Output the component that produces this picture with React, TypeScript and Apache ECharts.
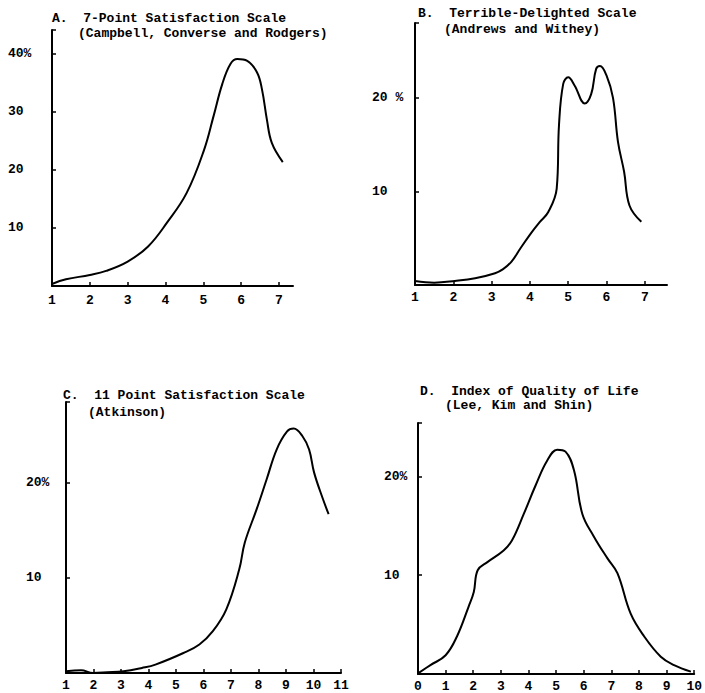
import React, { useEffect, useRef } from "react";
import * as echarts from "echarts";

// Panel A: 7-Point Satisfaction Scale
const aX = [1, 1.37, 2, 2.43, 3, 3.54, 4.03, 4.56, 5.02, 5.27, 5.5, 5.72, 5.9, 6.16, 6.42, 6.55, 6.68, 6.81, 7.1];
const aY = [0.35, 1.15, 1.9, 2.6, 4.2, 6.8, 10.8, 16, 23.4, 29.2, 34.7, 38.2, 39, 38.7, 36.7, 33.8, 28.6, 24.6, 21.3];
// Panel B: Terrible-Delighted Scale
const bX = [1, 1.5, 2.04, 2.57, 3.09, 3.3, 3.52, 3.75, 4.04, 4.25, 4.48, 4.7, 4.76, 4.87, 5.0, 5.17, 5.43, 5.6, 5.73, 5.83, 6.0, 6.17, 6.3, 6.46, 6.6, 6.91];
const bY = [0.43, 0.25, 0.43, 0.72, 1.26, 1.7, 2.5, 3.9, 5.6, 6.7, 7.8, 10.3, 17.1, 21.5, 22.2, 21.3, 19.4, 20.4, 23.1, 23.4, 22.4, 20, 15.3, 12.1, 8.5, 6.75];
// Panel C: 11 Point Satisfaction Scale
const cX = [1, 1.55, 1.98, 2.5, 3.09, 3.76, 4.25, 5.27, 5.85, 6.34, 6.83, 7.3, 7.5, 7.93, 8.3, 8.66, 9.04, 9.28, 9.6, 9.84, 10.02, 10.33, 10.55];
const cY = [0.18, 0.28, 0, 0.07, 0.18, 0.53, 0.88, 2.1, 3, 4.4, 6.7, 10.9, 13.7, 17.2, 20.4, 23.5, 25.4, 25.7, 24.9, 23.5, 21.1, 18.4, 16.7];
// Panel D: Index of Quality of Life
const dX = [0, 0.45, 1.0, 1.41, 1.83, 2.02, 2.16, 2.5, 3.1, 3.4, 3.83, 4.26, 4.68, 5.04, 5.34, 5.65, 5.95, 6.37, 6.86, 7.22, 7.7, 8.19, 8.79, 9.27, 9.88];
const dY = [0.07, 0.9, 1.9, 3.8, 6.8, 8.3, 10.5, 11.3, 12.5, 13.5, 16.2, 19.1, 21.6, 22.7, 22.5, 20.6, 16.2, 13.9, 11.7, 10.2, 6.1, 3.8, 1.75, 0.9, 0.24];

const titleLines = [
  ["A.  7-Point Satisfaction Scale", "(Campbell, Converse and Rodgers)"],
  ["B.  Terrible-Delighted Scale", "(Andrews and Withey)"],
  ["C.  11 Point Satisfaction Scale", "(Atkinson)"],
  ["D.  Index of Quality of Life", "(Lee, Kim and Shin)"],
];

const FONT = "Liberation Mono";

export default function App() {
  const ref = useRef<HTMLDivElement>(null);
  useEffect(() => {
    if (!ref.current) return;
    const chart = echarts.init(ref.current, null, { renderer: "svg" });
    const grids = [
      { left: 52, top: 30, width: 241, height: 256 },
      { left: 415, top: 23, width: 252, height: 262 },
      { left: 66, top: 402, width: 275, height: 271 },
      { left: 418, top: 423, width: 277, height: 251 },
    ];
    const xr = [
      [1, 7.37],
      [1, 7.58],
      [1, 11],
      [0, 10],
    ];
    const yr = [44, 28, 28.5, 25.4];
    const ylab = [
      (v: number) => (v === 40 ? "40%" : v > 0 && v % 10 === 0 ? String(v) : ""),
      (v: number) => (v === 20 ? "20 %" : v === 10 ? "10" : ""),
      (v: number) => (v === 20 ? "20%" : v === 10 ? "10" : ""),
      (v: number) => (v === 20 ? "20%" : v === 10 ? "10" : ""),
    ];
    const ymargin = [44, 43, 40, 34];
    const xmargin = [8, 6, 6, 6];
    const lineStyle = { color: "#000", width: 2 };
    const labelStyle = { color: "#000", fontFamily: FONT, fontWeight: "bold" as const, fontSize: 13 };
    const xAxis = grids.map((_, i) => ({
      type: "value" as const,
      gridIndex: i,
      min: xr[i][0],
      max: xr[i][1],
      interval: 1,
      splitLine: { show: false },
      axisLine: { lineStyle },
      axisTick: { inside: true, length: 4, lineStyle: { color: "#000", width: 1.5 } },
      axisLabel: {
        ...labelStyle,
        margin: xmargin[i],
        showMaxLabel: i >= 2,
        formatter: (v: number) => (Number.isInteger(v) ? String(v) : ""),
      },
    }));
    const yAxis = grids.map((_, i) => ({
      type: "value" as const,
      gridIndex: i,
      min: 0,
      max: yr[i],
      interval: 10,
      splitLine: { show: false },
      axisLine: { lineStyle },
      axisTick: { inside: true, length: 4, lineStyle: { color: "#000", width: 1.5 } },
      axisLabel: {
        ...labelStyle,
        align: "left" as const,
        margin: ymargin[i],
        formatter: ylab[i],
      },
    }));
    const xs = [aX, bX, cX, dX];
    const ys = [aY, bY, cY, dY];
    const series = xs.map((xArr, i) => ({
      type: "line" as const,
      xAxisIndex: i,
      yAxisIndex: i,
      smooth: 0.4,
      showSymbol: false,
      lineStyle: { color: "#000", width: 2 },
      data: xArr.map((x, k) => [x, ys[i][k]]),
    }));
    const tpos = [
      [52, 18, 78, 33],
      [418, 13, 444, 29],
      [63, 395, 88, 412],
      [420, 391, 445, 405],
    ];
    const graphic: any[] = [];
    titleLines.forEach((lines, i) => {
      lines.forEach((t, j) => {
        graphic.push({
          type: "text",
          x: tpos[i][j * 2],
          y: tpos[i][j * 2 + 1],
          style: {
            text: t,
            fill: "#000",
            font: `bold 13px "${FONT}"`,
            textVerticalAlign: "middle",
            verticalAlign: "middle",
          },
        });
      });
    });
    chart.setOption({
      animation: false,
      backgroundColor: "#fff",
      grid: grids,
      xAxis,
      yAxis,
      series,
      graphic,
    });
    return () => chart.dispose();
  }, []);
  return (
    <div
      ref={ref}
      style={{ position: "fixed", left: 0, top: 0, width: 705, height: 693, background: "#fff" }}
    />
  );
}
